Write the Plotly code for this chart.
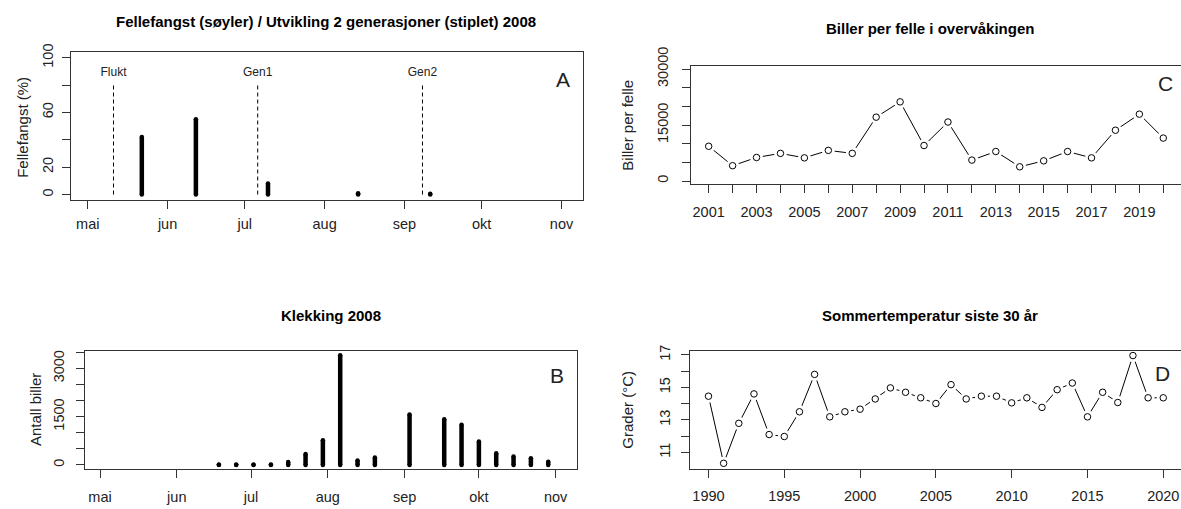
import plotly.graph_objects as go

# ---------------- data ----------------
# Panel A: trap catch (%) 2008
a_dates = ['2008-05-22', '2008-06-12', '2008-07-10', '2008-08-14', '2008-09-11']
a_values = [42, 55, 8, 1, 0.5]
a_event_dates = ['2008-05-11', '2008-07-06', '2008-09-08']
a_event_labels = ['Flukt', 'Gen1', 'Gen2']
a_event_top = 80
a_event_label_y = 89
a_yticks = [0, 20, 40, 60, 80, 100]
a_yticktext = ['0', '20', '', '60', '', '100']

# Panel B: hatching 2008
b_dates = ['2008-06-18', '2008-06-25', '2008-07-02', '2008-07-09', '2008-07-16',
           '2008-07-23', '2008-07-30', '2008-08-06', '2008-08-13', '2008-08-20',
           '2008-09-03', '2008-09-17', '2008-09-24', '2008-10-01', '2008-10-08',
           '2008-10-15', '2008-10-22', '2008-10-29']
b_values = [15, 15, 15, 15, 90, 340, 770, 3410, 140, 230, 1570, 1420, 1250,
            730, 365, 260, 210, 100]
b_yticks = [0, 500, 1000, 1500, 2000, 2500, 3000, 3500]
b_yticktext = ['0', '', '', '1500', '', '', '3000', '']

month_ticks = ['2008-05-01', '2008-06-01', '2008-07-01', '2008-08-01',
               '2008-09-01', '2008-10-01', '2008-11-01']
month_labels = ['mai', 'jun', 'jul', 'aug', 'sep', 'okt', 'nov']

# Panel C: beetles per trap
c_years = list(range(2001, 2021))
c_values = [9300, 4100, 6300, 7400, 6200, 8200, 7400, 17100, 21200, 9500,
            15800, 5600, 7900, 3800, 5400, 7900, 6200, 13600, 17900, 11500]
c_yticks = [0, 5000, 10000, 15000, 20000, 25000, 30000]
c_yticktext = ['0', '', '', '15000', '', '', '30000']
c_xtickvals = list(range(2001, 2021))
c_xticktext = [str(y) if y % 2 == 1 else '' for y in c_xtickvals]

# Panel D: summer temperature
d_years = list(range(1990, 2021))
d_values = [14.46, 10.33, 12.79, 14.60, 12.10, 11.98, 13.50, 15.80, 13.19, 13.50,
            13.66, 14.29, 14.97, 14.70, 14.36, 14.01, 15.17, 14.29, 14.46, 14.46,
            14.05, 14.36, 13.77, 14.86, 15.27, 13.19, 14.70, 14.07, 16.96, 14.36,
            14.36]
d_yticks = [11, 12, 13, 14, 15, 16, 17]
d_yticktext = ['11', '', '13', '', '15', '', '17']
d_xtickvals = [1990, 1995, 2000, 2005, 2010, 2015, 2020]

# ---------------- figure ----------------
W, H = 1181, 509
FONT = 'Liberation Sans, Arial, sans-serif'
TXT = '#222222'
LINE = '#333333'


def px_x(p):
    return p / W


def px_y(p):
    return 1 - p / H


fig = go.Figure()


def bar_traces(dates, values, xa, ya):
    xs, ys = [], []
    for d, v in zip(dates, values):
        xs += [d, d, None]
        ys += [0, v, None]
    fig.add_trace(go.Scatter(x=xs, y=ys, mode='lines', xaxis=xa, yaxis=ya,
                             line=dict(color='black', width=4.5),
                             hoverinfo='skip', showlegend=False))
    fig.add_trace(go.Scatter(x=list(dates) * 2, y=[0] * len(values) + list(values),
                             mode='markers', xaxis=xa, yaxis=ya,
                             marker=dict(color='black', size=4.5, line=dict(width=0)),
                             hoverinfo='skip', showlegend=False))


# Panel A
bar_traces(a_dates, a_values, 'x', 'y')
ex, ey = [], []
for d in a_event_dates:
    ex += [d, d, None]
    ey += [0, a_event_top, None]
fig.add_trace(go.Scatter(x=ex, y=ey, mode='lines', xaxis='x', yaxis='y',
                         line=dict(color='black', width=1, dash='4px,3px'),
                         hoverinfo='skip', showlegend=False))
fig.add_trace(go.Scatter(x=a_event_dates, y=[a_event_label_y] * 3, mode='text',
                         text=a_event_labels, xaxis='x', yaxis='y',
                         textfont=dict(family=FONT, size=12, color=TXT),
                         hoverinfo='skip', showlegend=False))

# Panel B
bar_traces(b_dates, b_values, 'x2', 'y2')


def line_points(xv, yv, xa, ya):
    fig.add_trace(go.Scatter(x=xv, y=yv, mode='lines', xaxis=xa, yaxis=ya,
                             line=dict(color='black', width=1),
                             hoverinfo='skip', showlegend=False))
    fig.add_trace(go.Scatter(x=xv, y=yv, mode='markers', xaxis=xa, yaxis=ya,
                             marker=dict(color='white', size=13, line=dict(width=0)),
                             hoverinfo='skip', showlegend=False))
    fig.add_trace(go.Scatter(x=xv, y=yv, mode='markers', xaxis=xa, yaxis=ya,
                             marker=dict(color='white', size=6.5, symbol='circle',
                                         line=dict(color='black', width=1)),
                             hoverinfo='skip', showlegend=False))


line_points(c_years, c_values, 'x3', 'y3')
line_points(d_years, d_values, 'x4', 'y4')

tickfont = dict(family=FONT, size=14.5, color=TXT)
common_x = dict(showline=True, linecolor=LINE, linewidth=1, mirror=True,
                ticks='outside', ticklen=8, tickcolor=LINE, tickwidth=1,
                showgrid=False, zeroline=False, tickfont=tickfont,
                ticklabelstandoff=6, layer='above traces', automargin=False)
common_y = dict(showline=True, linecolor=LINE, linewidth=1, mirror=True,
                ticks='outside', ticklen=8, tickcolor=LINE, tickwidth=1,
                showgrid=False, zeroline=False, tickfont=tickfont,
                tickangle=-90, ticklabelstandoff=6, layer='above traces',
                automargin=False)

fig.update_layout(
    template='none',
    width=W, height=H, margin=dict(l=0, r=0, t=0, b=0, autoexpand=False),
    paper_bgcolor='white', plot_bgcolor='white', showlegend=False,
    xaxis=dict(common_x, domain=[px_x(70.8), px_x(583.4)], anchor='y', type='date',
               range=['2008-04-24 10:00', '2008-11-09 12:00'],
               tickvals=month_ticks, ticktext=month_labels, ticklabelstandoff=3),
    yaxis=dict(common_y, domain=[px_y(200), px_y(52.3)], anchor='x',
               range=[-4, 104], tickvals=a_yticks, ticktext=a_yticktext,
               ticklabelstandoff=3),
    xaxis2=dict(common_x, domain=[px_x(85), px_x(576.7)], anchor='y2', type='date',
                range=['2008-04-24 22:30', '2008-11-09 12:00'],
                tickvals=month_ticks, ticktext=month_labels),
    yaxis2=dict(common_y, domain=[px_y(469.3), px_y(351)], anchor='x2',
                range=[-134, 3540], tickvals=b_yticks, ticktext=b_yticktext),
    xaxis3=dict(common_x, domain=[px_x(690.5), 1.0], anchor='y3',
                range=[2000.24, 2020.74], tickvals=c_xtickvals, ticktext=c_xticktext),
    yaxis3=dict(common_y, domain=[px_y(184.3), px_y(66)], anchor='x3',
                range=[-884, 30804], tickvals=c_yticks, ticktext=c_yticktext,
                ticklabelstandoff=8),
    xaxis4=dict(common_x, domain=[px_x(690.3), 1.0], anchor='y4',
                range=[1988.8, 2021.17], tickvals=d_xtickvals,
                ticktext=[str(v) for v in d_xtickvals]),
    yaxis4=dict(common_y, domain=[px_y(469), px_y(351)], anchor='x4',
                range=[9.98, 17.24], tickvals=d_yticks, ticktext=d_yticktext),
)

ann = []


def add_text(x, y, text, size, bold=False, angle=0):
    ann.append(dict(x=px_x(x), y=px_y(y), xref='paper', yref='paper',
                    text=('<b>%s</b>' % text) if bold else text, showarrow=False,
                    xanchor='center', yanchor='middle', textangle=angle,
                    font=dict(family=FONT, size=size, color='black' if bold else TXT)))


add_text(326, 21.7, 'Fellefangst (søyler) / Utvikling 2 generasjoner (stiplet) 2008', 15, bold=True)
add_text(330.5, 315, 'Klekking 2008', 15, bold=True)
add_text(930, 29, 'Biller per felle i overvåkingen', 15, bold=True)
add_text(930, 315, 'Sommertemperatur siste 30 år', 15, bold=True)

add_text(21.8, 127, 'Fellefangst (%)', 15, angle=-90)
add_text(35, 410, 'Antall biller', 15, angle=-90)
add_text(626.7, 125, 'Biller per felle', 15, angle=-90)
add_text(626.7, 410, 'Grader (°C)', 15, angle=-90)

add_text(563.4, 79, 'A', 21)
add_text(557, 375, 'B', 21)
add_text(1165, 83.3, 'C', 21)
add_text(1162.7, 373.3, 'D', 21)

fig.update_layout(annotations=ann)

fig.write_html('out.html')
